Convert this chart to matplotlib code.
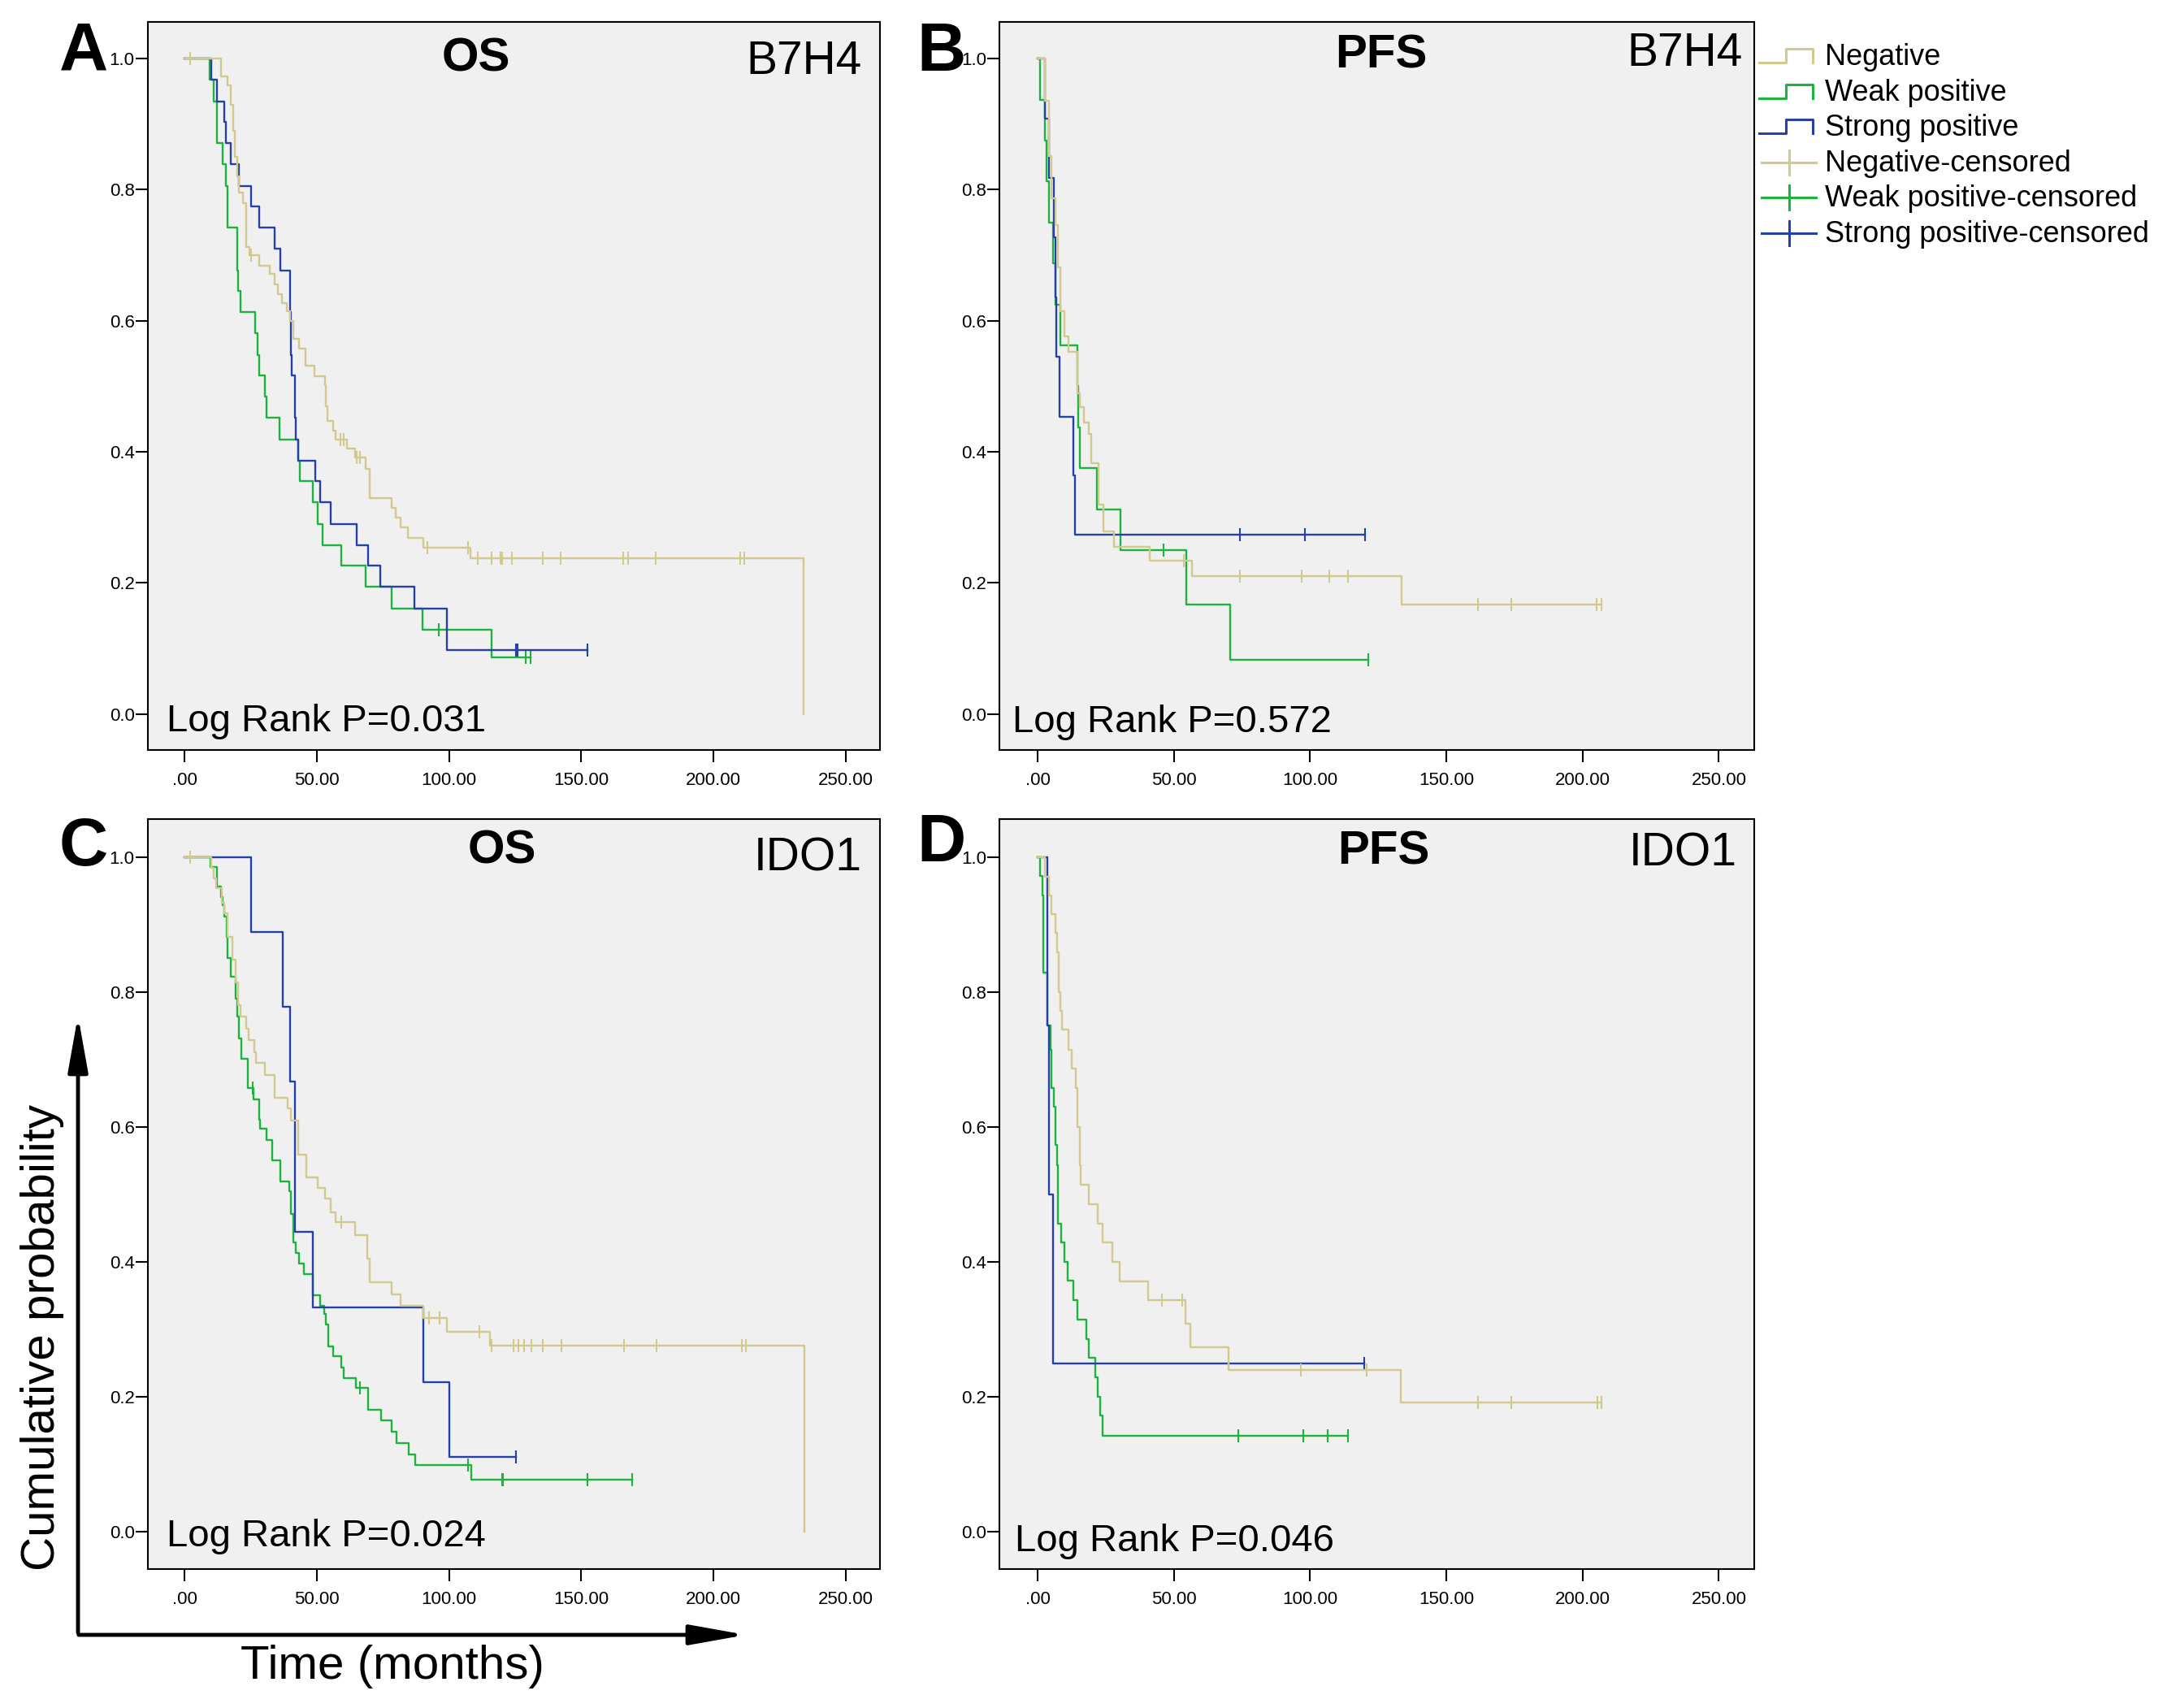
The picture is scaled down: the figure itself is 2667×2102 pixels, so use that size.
import matplotlib.pyplot as plt
import numpy as np
from matplotlib.lines import Line2D
from matplotlib.patches import FancyArrowPatch

plt.rcParams['font.family'] = ['Liberation Sans', 'DejaVu Sans']

W, H = 2667, 2102

groups = ['Negative', 'Weak positive', 'Strong positive']
colors = ['#D2C98E', '#1CB43C', '#2740A8']

# A: OS, B7H4
a_neg_t = [0, 13.7, 16.3, 17.6, 18.3, 19.0, 20.0, 20.7, 22.0, 23.4, 24.6, 28.4, 32.3, 34.0, 35.3, 36.7, 38.7, 39.9,
           41.1, 43.3, 45.9, 49.1, 53.0, 53.5, 54.0, 56.2, 57.1, 61.5, 64.5, 68.6, 69.9, 78.4, 79.8, 81.6, 84.6,
           90.2, 108.2, 234.0]
a_neg_s = [1.0, 0.973, 0.959, 0.93, 0.89, 0.85, 0.82, 0.796, 0.78, 0.713, 0.70, 0.684, 0.672, 0.655, 0.641, 0.627,
           0.614, 0.60, 0.573, 0.558, 0.532, 0.515, 0.502, 0.47, 0.447, 0.432, 0.419, 0.405, 0.391, 0.374, 0.33,
           0.314, 0.30, 0.285, 0.269, 0.254, 0.238, 0.0]
a_neg_c = [2.1, 25.2, 58.9, 60.1, 65.1, 66.3, 92.0, 107.1, 111.0, 116.0, 119.5, 120.0, 123.9, 135.5, 142.2, 165.8,
           167.9, 178.2, 210.1, 211.7]
a_weak_t = [0, 9.6, 11.0, 12.2, 14.5, 15.8, 16.3, 19.9, 20.4, 21.3, 26.6, 27.5, 28.4, 30.5, 30.9, 35.8, 42.9, 43.6,
            48.6, 50.4, 52.3, 59.2, 68.6, 78.4, 89.9, 116.0]
a_weak_s = [1.0, 0.968, 0.935, 0.871, 0.839, 0.806, 0.742, 0.677, 0.645, 0.613, 0.581, 0.548, 0.516, 0.484, 0.452,
            0.419, 0.387, 0.355, 0.323, 0.290, 0.258, 0.226, 0.194, 0.161, 0.129, 0.086]
a_weak_c = [96.1, 129.1, 130.8]
a_strong_t = [0, 10.1, 12.4, 15.1, 15.6, 17.6, 20.7, 25.2, 28.2, 34.0, 36.3, 39.9, 40.3, 40.6, 41.7, 42.0, 42.9,
              49.3, 51.4, 55.3, 65.1, 69.3, 74.1, 86.9, 99.1]
a_strong_s = [1.0, 0.968, 0.935, 0.903, 0.871, 0.839, 0.806, 0.774, 0.742, 0.71, 0.677, 0.613, 0.548, 0.516, 0.452,
              0.419, 0.387, 0.355, 0.323, 0.290, 0.258, 0.226, 0.194, 0.161, 0.097]
a_strong_c = [125.4, 125.9, 152.3]

# B: PFS, B7H4
b_neg_t = [0, 2.8, 4.1, 5.1, 6.6, 7.5, 8.4, 9.9, 11.2, 14.6, 15.4, 16.9, 18.7, 19.7, 22.5, 24.3, 28.1, 41.2, 56.8,
           133.5]
b_neg_s = [1.0, 0.936, 0.851, 0.787, 0.746, 0.682, 0.615, 0.576, 0.553, 0.489, 0.468, 0.445, 0.427, 0.383, 0.319,
           0.278, 0.255, 0.234, 0.21, 0.167]
b_neg_c = [53.8, 74.4, 97.0, 107.0, 113.9, 161.6, 173.8, 205.3, 207.0]
b_weak_t = [0, 0.9, 2.8, 3.4, 4.3, 5.6, 6.6, 8.4, 14.6, 15.0, 15.5, 21.9, 30.5, 54.7, 70.8]
b_weak_s = [1.0, 0.9375, 0.875, 0.8125, 0.75, 0.6875, 0.625, 0.5625, 0.5, 0.4375, 0.375, 0.3125, 0.25, 0.167, 0.083]
b_weak_c = [46.3, 121.4]
b_strong_t = [0, 2.8, 4.3, 6.0, 6.6, 6.9, 8.1, 13.1, 13.7]
b_strong_s = [1.0, 0.909, 0.818, 0.727, 0.636, 0.545, 0.454, 0.364, 0.273]
b_strong_c = [74.2, 98.0, 120.2]

# C: OS, IDO1
c_neg_t = [0, 10.1, 11.0, 11.9, 14.0, 15.1, 16.3, 18.1, 19.3, 20.4, 21.3, 23.4, 24.3, 26.4, 26.9, 30.5, 34.0, 39.0,
           40.2, 42.9, 46.1, 50.4, 53.2, 55.3, 57.1, 64.5, 69.0, 69.9, 78.4, 81.6, 90.2, 99.1, 115.5, 234.4]
c_neg_s = [1.0, 0.984, 0.968, 0.954, 0.932, 0.916, 0.882, 0.848, 0.814, 0.78, 0.764, 0.745, 0.729, 0.711, 0.695,
           0.677, 0.643, 0.627, 0.609, 0.559, 0.525, 0.51, 0.494, 0.473, 0.459, 0.44, 0.405, 0.37, 0.352, 0.335,
           0.317, 0.297, 0.276, 0.0]
c_neg_c = [2.1, 59.2, 92.6, 96.6, 111.5, 116.1, 124.5, 126.2, 128.4, 131.2, 135.5, 142.5, 166.1, 178.5, 210.8, 212.2]
c_weak_t = [0, 9.8, 12.4, 13.7, 14.5, 15.1, 16.0, 16.3, 17.6, 19.3, 19.9, 20.7, 21.6, 23.8, 26.1, 28.4, 28.7, 30.9,
            33.2, 36.2, 39.7, 40.2, 41.1, 42.2, 43.3, 45.2, 48.6, 51.4, 52.8, 53.5, 54.4, 56.2, 59.4, 60.3, 64.7,
            69.5, 74.3, 78.4, 80.1, 84.9, 87.2, 108.5]
c_weak_s = [1.0, 0.985, 0.956, 0.94, 0.928, 0.912, 0.882, 0.85, 0.822, 0.79, 0.764, 0.731, 0.701, 0.657, 0.641,
            0.611, 0.597, 0.581, 0.551, 0.519, 0.505, 0.471, 0.429, 0.413, 0.397, 0.382, 0.351, 0.335, 0.323, 0.307,
            0.275, 0.26, 0.244, 0.228, 0.214, 0.181, 0.165, 0.148, 0.132, 0.115, 0.099, 0.078]
c_weak_c = [25.7, 66.3, 107.3, 120.0, 120.3, 152.5, 169.3]
c_strong_t = [0, 25.2, 37.2, 39.9, 41.7, 48.6, 90.2, 100.2]
c_strong_s = [1.0, 0.889, 0.778, 0.667, 0.444, 0.333, 0.222, 0.111]
c_strong_c = [125.4]

# D: PFS, IDO1
d_neg_t = [0, 2.8, 4.3, 5.2, 6.6, 7.1, 7.9, 8.4, 9.0, 11.2, 12.5, 14.0, 14.6, 15.4, 15.9, 18.7, 22.1, 24.0, 27.5,
           30.0, 40.6, 54.3, 56.2, 70.2, 133.2]
d_neg_s = [1.0, 0.971, 0.943, 0.915, 0.887, 0.859, 0.8, 0.772, 0.744, 0.714, 0.686, 0.658, 0.6, 0.543, 0.514, 0.486,
           0.457, 0.429, 0.4, 0.371, 0.343, 0.309, 0.274, 0.24, 0.192]
d_neg_c = [45.5, 53.0, 96.5, 120.8, 161.6, 173.8, 205.5, 207.0]
d_weak_t = [0, 0.9, 1.9, 2.2, 3.7, 4.7, 5.2, 6.0, 6.6, 7.1, 7.5, 8.8, 9.9, 10.9, 13.1, 14.6, 17.8, 18.7, 21.2, 22.1,
            23.0, 24.0]
d_weak_s = [1.0, 0.972, 0.943, 0.828, 0.75, 0.714, 0.658, 0.63, 0.573, 0.543, 0.457, 0.429, 0.4, 0.372, 0.343,
            0.315, 0.286, 0.258, 0.229, 0.2, 0.172, 0.143]
d_weak_c = [73.8, 97.4, 106.6, 113.9]
d_strong_t = [0, 3.7, 4.3, 5.6]
d_strong_s = [1.0, 0.75, 0.5, 0.25]
d_strong_c = [119.9]

letters = ['A', 'B', 'C', 'D']
endpoints = ['OS', 'PFS', 'OS', 'PFS']
markers_ = ['B7H4', 'B7H4', 'IDO1', 'IDO1']
pvals = ['0.031', '0.572', '0.024', '0.046']

fig = plt.figure(figsize=(W / 100, H / 100), dpi=100)


def box(left, top, right, bottom):
    return [left / W, 1 - bottom / H, (right - left) / W, (bottom - top) / H]


def km(ax, t, s, cens, color):
    t = np.array(t, dtype=float)
    s = np.array(s, dtype=float)
    cens = np.array(cens, dtype=float)
    tt, ss = t, s
    if len(cens) and cens.max() > t[-1]:
        tt = np.append(t, cens.max())
        ss = np.append(s, s[-1])
    ax.step(tt, ss, where='post', color=color, lw=1.7)
    if len(cens):
        lev = s[np.searchsorted(t, cens, side='right') - 1]
        ax.plot(cens, lev, ls='none', marker='|', ms=12, mew=1.5, color=color)


boxes = [box(181.5, 27, 1083, 923), box(1230, 27, 2159, 923),
         box(181.5, 1008, 1083, 1931), box(1230, 1008, 2159, 1931)]
curves = [
    [(a_weak_t, a_weak_s, a_weak_c), (a_strong_t, a_strong_s, a_strong_c), (a_neg_t, a_neg_s, a_neg_c)],
    [(b_weak_t, b_weak_s, b_weak_c), (b_strong_t, b_strong_s, b_strong_c), (b_neg_t, b_neg_s, b_neg_c)],
    [(c_weak_t, c_weak_s, c_weak_c), (c_strong_t, c_strong_s, c_strong_c), (c_neg_t, c_neg_s, c_neg_c)],
    [(d_weak_t, d_weak_s, d_weak_c), (d_strong_t, d_strong_s, d_strong_c), (d_neg_t, d_neg_s, d_neg_c)],
]
curve_colors = [colors[1], colors[2], colors[0]]
title_pos = [(0.449, 0.932), (0.506, 0.937), (0.484, 0.941), (0.509, 0.940)]
gene_pos = [(0.975, 0.929), (0.984, 0.940), (0.975, 0.931), (0.977, 0.938)]
p_pos = [(0.026, 0.026), (0.017, 0.025), (0.026, 0.030), (0.020, 0.024)]
letter_pos = [(73, 87), (1128, 87), (73, 1065), (1128, 1060)]

for i in range(4):
    ax = fig.add_axes(boxes[i])
    ax.set_facecolor('#F0F0F0')
    for (t, s, c), col in zip(curves[i], curve_colors):
        km(ax, t, s, c, col)
    ax.set_xlim(-14, 263)
    ax.set_ylim(-0.055, 1.056)
    ax.set_xticks([0, 50, 100, 150, 200, 250])
    ax.set_xticklabels(['.00', '50.00', '100.00', '150.00', '200.00', '250.00'])
    ax.set_yticks([0, 0.2, 0.4, 0.6, 0.8, 1.0])
    ax.set_yticklabels(['0.0', '0.2', '0.4', '0.6', '0.8', '1.0'])
    ax.tick_params(axis='both', length=10.5, width=1.5, labelsize=16, direction='out')
    ax.tick_params(axis='y', pad=1)
    ax.tick_params(axis='x', pad=9)
    for sp in ax.spines.values():
        sp.set_linewidth(1.5)
    ax.text(title_pos[i][0], title_pos[i][1], endpoints[i], transform=ax.transAxes, ha='center',
            va='baseline', fontsize=42, fontweight='bold')
    ax.text(gene_pos[i][0], gene_pos[i][1], markers_[i], transform=ax.transAxes, ha='right',
            va='baseline', fontsize=41)
    ax.text(p_pos[i][0], p_pos[i][1], 'Log Rank P=' + pvals[i], transform=ax.transAxes, ha='left',
            va='baseline', fontsize=34)
    fig.text(letter_pos[i][0] / W, 1 - letter_pos[i][1] / H, letters[i], ha='left', va='baseline',
             fontsize=60, fontweight='bold')


def fx(x):
    return x / W


def fy(y):
    return 1 - y / H


# legend to the right of panel B
leg_labels = groups + [g + '-censored' for g in groups]
for k, lab in enumerate(leg_labels):
    base = 80 + k * 43.6
    col = colors[k % 3]
    if k < 3:
        xs = [2165, 2198, 2198, 2231, 2231]
        ys = [base - 3, base - 3, base - 20, base - 20, base - 3]
        fig.add_artist(Line2D([fx(v) for v in xs], [fy(v) for v in ys], color=col, lw=2.2))
    else:
        yl = base - 11
        fig.add_artist(Line2D([fx(2168), fx(2235)], [fy(yl), fy(yl)], color=col, lw=2.2))
        fig.add_artist(Line2D([fx(2202), fx(2202)], [fy(yl - 15), fy(yl + 15)], color=col, lw=2.2))
    fig.text(fx(2246), fy(base), lab, ha='left', va='baseline', fontsize=26)

# big axis arrows and labels
for start, end in [((96, 2012), (96, 1247)), ((94, 2012), (921, 2012))]:
    fig.add_artist(FancyArrowPatch(
        (fx(start[0]), fy(start[1])), (fx(end[0]), fy(end[1])), transform=fig.transFigure,
        arrowstyle='-|>,head_length=4.2,head_width=0.75', mutation_scale=10, lw=3.5, color='black'))
fig.text(fx(52), fy(1646), 'Cumulative probability', rotation=90, ha='center', va='center', fontsize=42)
fig.text(fx(483), fy(2066), 'Time (months)', ha='center', va='baseline', fontsize=42)

fig.savefig('out.png', dpi=100, facecolor='white')
